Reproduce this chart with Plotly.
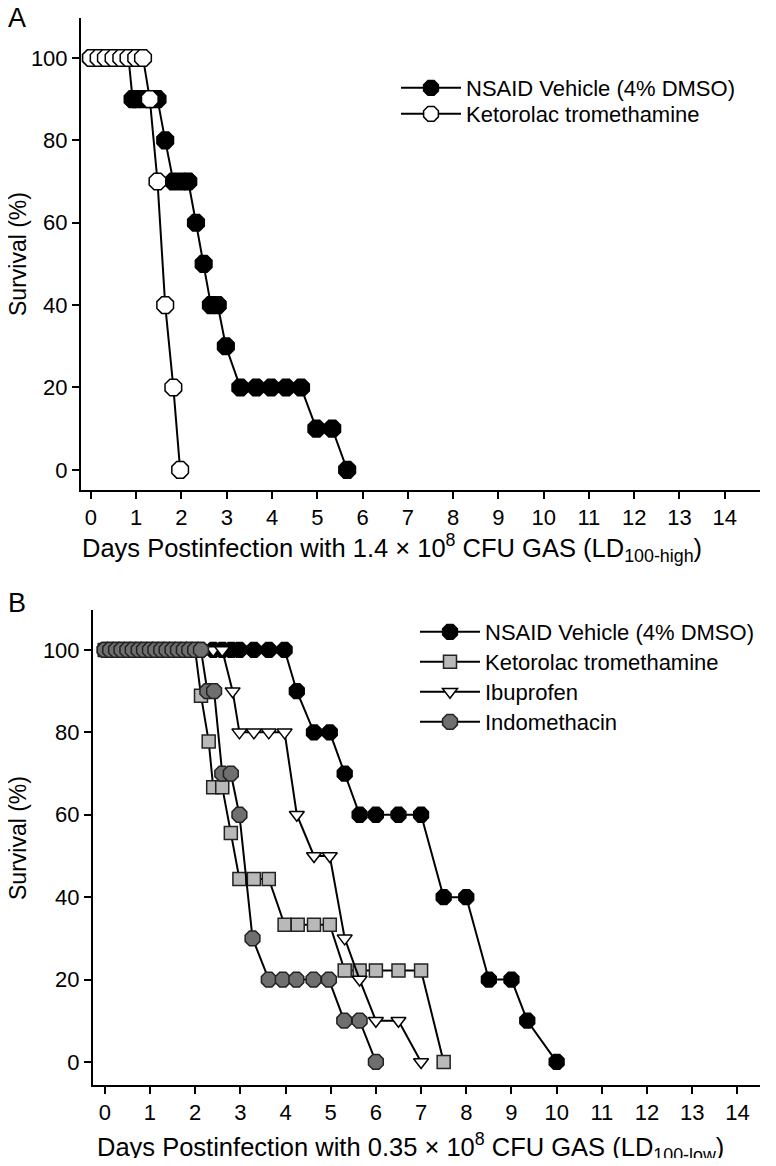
import plotly.graph_objects as go

# ---------------- Panel A data ----------------
a_vehicle_days = [0, 0.17, 0.33, 0.5, 0.67, 0.83, 0.92, 1.0, 1.15, 1.3, 1.47, 1.64, 1.82, 2.0, 2.15,
                  2.32, 2.49, 2.65, 2.8, 2.98, 3.3, 3.65, 3.98, 4.31, 4.64, 4.98, 5.33, 5.66]
a_vehicle_surv = [100, 100, 100, 100, 100, 100, 90, 90, 90, 90, 90, 80, 70, 70, 70,
                  60, 50, 40, 40, 30, 20, 20, 20, 20, 20, 10, 10, 0]
a_keto_days = [0, 0.17, 0.33, 0.5, 0.67, 0.83, 1.0, 1.15, 1.3, 1.47, 1.64, 1.82, 1.97]
a_keto_surv = [100, 100, 100, 100, 100, 100, 100, 100, 90, 70, 40, 20, 0]

# ---------------- Panel B data ----------------
b_early = [0, 0.12, 0.25, 0.37, 0.5, 0.62, 0.75, 0.87, 1.0, 1.12, 1.25, 1.37, 1.5, 1.62, 1.75, 1.87, 2.0]

b_vehicle_days = b_early + [2.13, 2.4, 2.6, 2.8, 2.98, 3.3, 3.63, 3.98, 4.25, 4.63, 4.98, 5.31,
                            5.64, 6.0, 6.5, 7.0, 7.5, 8.0, 8.5, 9.0, 9.35, 10.0]
b_vehicle_surv = [100] * len(b_early) + [100, 100, 100, 100, 100, 100, 100, 100, 90, 80, 80, 70,
                                         60, 60, 60, 60, 40, 40, 20, 20, 10, 0]
b_keto_days = b_early + [2.13, 2.3, 2.4, 2.6, 2.79, 2.98, 3.3, 3.63, 3.98, 4.27, 4.63, 4.98,
                         5.31, 5.64, 6.0, 6.5, 7.0, 7.5]
b_keto_surv = [100] * len(b_early) + [88.9, 77.8, 66.7, 66.7, 55.6, 44.4, 44.4, 44.4, 33.3, 33.3, 33.3, 33.3,
                                      22.2, 22.2, 22.2, 22.2, 22.2, 0]
b_ibu_days = b_early + [2.13, 2.4, 2.6, 2.83, 2.98, 3.3, 3.63, 3.98, 4.25, 4.63, 4.98, 5.31,
                        5.64, 6.0, 6.5, 7.0]
b_ibu_surv = [100] * len(b_early) + [100, 100, 100, 90, 80, 80, 80, 80, 60, 50, 50, 30,
                                     20, 10, 10, 0]
b_indo_days = b_early + [2.13, 2.27, 2.42, 2.6, 2.79, 2.98, 3.27, 3.63, 3.94, 4.24, 4.62, 4.96,
                         5.3, 5.64, 6.0]
b_indo_surv = [100] * len(b_early) + [100, 90, 90, 70, 70, 60, 30, 20, 20, 20, 20, 20,
                                      10, 10, 0]

x_ticks = list(range(0, 15))
y_ticks = [0, 20, 40, 60, 80, 100]

FONT = "Liberation Sans, Arial, sans-serif"
# page has an 8px body margin; figure is sized to fit inside it
OFF = 8
W, H = 776 - 2 * OFF, 1166 - 2 * OFF


def px(xp):
    return (xp - OFF) / W


def py(yp):
    return 1 - (yp - OFF) / H


fig = go.Figure()
line = dict(color="black", width=2)

fig.add_trace(go.Scatter(x=a_vehicle_days, y=a_vehicle_surv, mode="lines+markers",
                         name="NSAID Vehicle (4% DMSO)", line=line, xaxis="x", yaxis="y", legend="legend",
                         marker=dict(symbol="octagon", size=18, color="black",
                                     line=dict(color="black", width=1.5))))
fig.add_trace(go.Scatter(x=a_keto_days, y=a_keto_surv, mode="lines+markers",
                         name="Ketorolac tromethamine", line=line, xaxis="x", yaxis="y", legend="legend2",
                         marker=dict(symbol="octagon", size=18, color="white",
                                     line=dict(color="black", width=1.5))))

fig.add_trace(go.Scatter(x=b_vehicle_days, y=b_vehicle_surv, mode="lines+markers",
                         name="NSAID Vehicle (4% DMSO)", line=line, xaxis="x2", yaxis="y2", legend="legend3",
                         marker=dict(symbol="octagon", size=16, color="black",
                                     line=dict(color="black", width=1.5))))
fig.add_trace(go.Scatter(x=b_keto_days, y=b_keto_surv, mode="lines+markers",
                         name="Ketorolac tromethamine", line=line, xaxis="x2", yaxis="y2", legend="legend4",
                         marker=dict(symbol="square", size=13, color="#b9b9b9",
                                     line=dict(color="#222222", width=1.5))))
fig.add_trace(go.Scatter(x=b_ibu_days, y=b_ibu_surv, mode="lines+markers",
                         name="Ibuprofen", line=line, xaxis="x2", yaxis="y2", legend="legend5",
                         marker=dict(symbol="triangle-down", size=13, color="white",
                                     line=dict(color="black", width=1.5))))
fig.add_trace(go.Scatter(x=b_indo_days, y=b_indo_surv, mode="lines+markers",
                         name="Indomethacin", line=line, xaxis="x2", yaxis="y2", legend="legend6",
                         marker=dict(symbol="octagon", size=16, color="#6f6f6f",
                                     line=dict(color="#222222", width=1.5))))

axis_common = dict(showline=True, linewidth=2, linecolor="black", ticks="outside", ticklen=7,
                   tickwidth=2, tickcolor="black", showgrid=False, zeroline=False,
                   tickfont=dict(family=FONT, size=22, color="black"))


def legend_at(text_x, row_y):
    return dict(x=px(text_x - 71), y=py(row_y - 21), xanchor="left", yanchor="top", itemwidth=60,
                font=dict(family=FONT, size=22, color="black"), bgcolor="rgba(0,0,0,0)")


fig.update_layout(
    width=W, height=H, autosize=False,
    margin=dict(l=0, r=0, t=0, b=0),
    plot_bgcolor="white", paper_bgcolor="white",
    font=dict(family=FONT, size=22, color="black"),
    xaxis=dict(domain=[px(81), px(760)], range=[-0.22, 14.78], tickvals=x_ticks, anchor="y", **axis_common),
    yaxis=dict(domain=[py(490), py(18)], range=[-4.9, 109.7], tickvals=y_ticks, anchor="x", **axis_common),
    xaxis2=dict(domain=[px(93), px(760)], range=[-0.26, 14.5], tickvals=x_ticks, anchor="y2", **axis_common),
    yaxis2=dict(domain=[py(1085), py(610)], range=[-5.6, 109.7], tickvals=y_ticks, anchor="x2", **axis_common),
    legend=legend_at(467, 88),
    legend2=legend_at(467, 114),
    legend3=legend_at(486, 632),
    legend4=legend_at(486, 662),
    legend5=legend_at(486, 692),
    legend6=legend_at(486, 722),
    showlegend=True,
)

ann_font = dict(family=FONT, size=25.5, color="black")
ytitle_font = dict(family=FONT, size=23, color="black")
fig.add_annotation(xref="paper", yref="paper", x=px(80), y=py(548), xanchor="left", yanchor="middle",
                   showarrow=False, font=ann_font,
                   text="Days Postinfection with 1.4 × 10<sup>8</sup> CFU GAS (LD<sub>100-high</sub>)")
fig.add_annotation(xref="paper", yref="paper", x=px(95), y=py(1147), xanchor="left", yanchor="middle",
                   showarrow=False, font=ann_font,
                   text="Days Postinfection with 0.35 × 10<sup>8</sup> CFU GAS (LD<sub>100-low</sub>)")
fig.add_annotation(xref="paper", yref="paper", x=px(18), y=py(254), xanchor="center", yanchor="middle",
                   showarrow=False, font=ytitle_font, textangle=-90, text="Survival (%)")
fig.add_annotation(xref="paper", yref="paper", x=px(18), y=py(838), xanchor="center", yanchor="middle",
                   showarrow=False, font=ytitle_font, textangle=-90, text="Survival (%)")
fig.add_annotation(xref="paper", yref="paper", x=px(17), y=py(18), xanchor="center", yanchor="middle",
                   showarrow=False, font=dict(family=FONT, size=27, color="black"), text="A")
fig.add_annotation(xref="paper", yref="paper", x=px(17), y=py(603), xanchor="center", yanchor="middle",
                   showarrow=False, font=dict(family=FONT, size=27, color="black"), text="B")

fig.write_html("out.html")
